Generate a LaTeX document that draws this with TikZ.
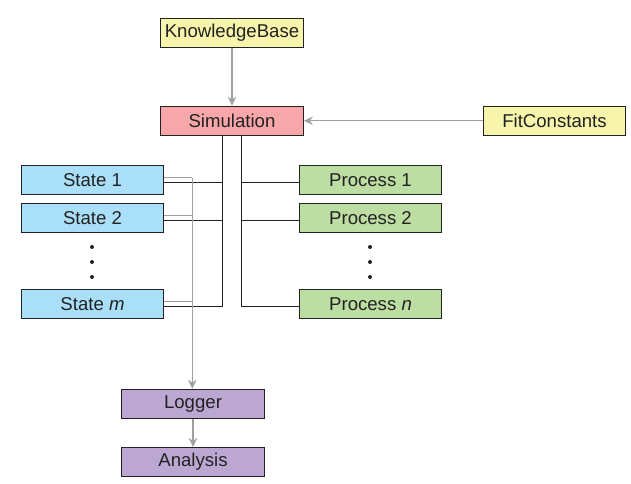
\documentclass[tikz,border=0pt]{standalone}
\usepackage{fontspec}
\setmainfont{Liberation Sans}
\usetikzlibrary{arrows.meta}
\definecolor{cyel}{RGB}{247,245,171}
\definecolor{cpink}{RGB}{247,166,170}
\definecolor{cblue}{RGB}{169,223,249}
\definecolor{cgreen}{RGB}{189,222,162}
\definecolor{cpurple}{RGB}{187,167,209}
\definecolor{cgray}{RGB}{160,160,160}
\definecolor{cdark}{RGB}{34,34,34}
\tikzset{
  box/.style={draw=cdark, line width=1.2pt, minimum width=142.5pt, minimum height=29pt,
    inner sep=0pt, text=cdark, font=\fontsize{18.6}{22}\selectfont},
  kbox/.style={box, fill=cyel},
  sbox/.style={box, fill=cpink},
  stbox/.style={box, fill=cblue},
  pbox/.style={box, fill=cgreen},
  lbox/.style={box, fill=cpurple},
  blk/.style={draw=cdark, line width=1.2pt},
  gry/.style={draw=cgray, line width=1.2pt},
  garr/.style={gry, -{Stealth[length=9pt,width=8.5pt,inset=3pt]}},
  dotc/.style={fill=cdark, draw=none, circle, minimum size=4pt, inner sep=0pt}
}
\begin{document}
\begin{tikzpicture}[x=1pt,y=-1pt]
\useasboundingbox (0,0) rectangle (631,483);
\node[kbox] (kb) at (232,32.8) {KnowledgeBase};
\node[sbox] (sim) at (232,120.8) {Simulation};
\node[kbox] (fit) at (554.5,120.8) {FitConstants};
\node[stbox] (s1) at (92.5,179.8) {State 1};
\node[stbox] (s2) at (92.5,217.8) {State 2};
\node[stbox] (sm) at (92.5,303.8) {State \textit{m}};
\node[pbox] (p1) at (370.5,179.8) {Process 1};
\node[pbox] (p2) at (370.5,217.8) {Process 2};
\node[pbox] (pn) at (370.5,304.3) {Process \textit{n}};
\node[lbox] (log) at (193,403.8) {Logger};
\node[lbox] (ana) at (193,462) {Analysis};
% dots
\node[dotc] (d1) at (92,247) {};
\node[dotc] (d2) at (92,262) {};
\node[dotc] (d3) at (92,277) {};
\node[dotc] (e1) at (370,247) {};
\node[dotc] (e2) at (370,262) {};
\node[dotc] (e3) at (370,277) {};
% gray arrows
\draw[garr] (kb.south) -- (sim.north);
\draw[garr] (fit.west) -- (sim.east);
\draw[garr] (log.south) -- (ana.north);
% black tree to states
\coordinate (bl) at (222.3,0);
\coordinate (br) at (241.3,0);
\draw[blk] (sim.south -| bl) -- ([yshift=-3pt]sm.east -| bl) -- ([yshift=-3pt]sm.east);
\draw[blk] ([yshift=-2.5pt]s1.east) -- ([yshift=-2.5pt]s1.east -| bl);
\draw[blk] ([yshift=-3pt]s2.east) -- ([yshift=-3pt]s2.east -| bl);
\draw[blk] (sim.south -| br) -- ([yshift=-2.5pt]pn.west -| br) -- ([yshift=-2.5pt]pn.west);
\draw[blk] ([yshift=-3pt]p1.west) -- ([yshift=-3pt]p1.west -| br);
\draw[blk] ([yshift=-3pt]p2.west) -- ([yshift=-3pt]p2.west -| br);
% gray tree to logger
\coordinate (gx) at (192.3,0);
\draw[gry] ([yshift=2pt]s1.east) -- ([yshift=2pt]s1.east -| gx);
\draw[gry] ([yshift=2.5pt]s2.east) -- ([yshift=2.5pt]s2.east -| gx);
\draw[gry] ([yshift=2.5pt]sm.east) -- ([yshift=2.5pt]sm.east -| gx);
\draw[garr] ([yshift=2pt]s1.east -| gx) -- (log.north -| gx);
\end{tikzpicture}
\end{document}
